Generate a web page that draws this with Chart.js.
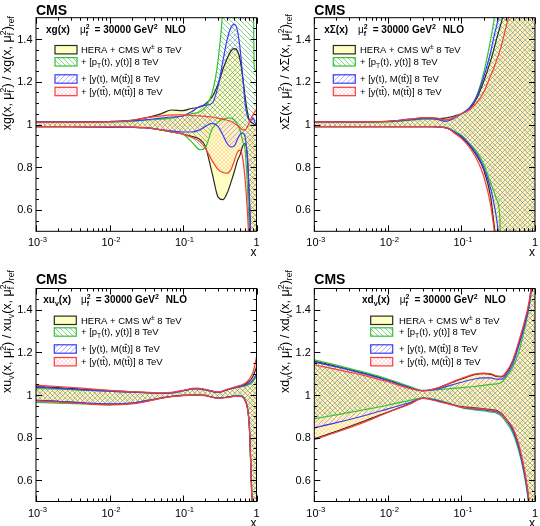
<!DOCTYPE html>
<html lang="en">
<head>
  <meta charset="UTF-8">
  <title>CMS PDF ratios</title>
  <script src="https://cdn.jsdelivr.net/npm/chart.js"></script>
  <style>
    body { margin: 0; background: #fff; }
    .wrap { position: relative; width: 540px; height: 526px; overflow: hidden; }
    .panel { position: absolute; width: 270px; height: 263px; }
  </style>
</head>
<body>
<div class="wrap">
  <div class="panel" style="left:0;top:0"><canvas id="cG" width="270" height="263"></canvas></div>
  <div class="panel" style="left:270px;top:0"><canvas id="cS" width="270" height="263"></canvas></div>
  <div class="panel" style="left:0;top:263px"><canvas id="cU" width="270" height="263"></canvas></div>
  <div class="panel" style="left:270px;top:263px"><canvas id="cD" width="270" height="263"></canvas></div>
</div>

<script>
// ---- data (ratio to reference) ----
// gluon
const xG = [0.001, 0.003, 0.01, 0.02, 0.03, 0.05, 0.07, 0.1, 0.13, 0.17, 0.2, 0.25, 0.3, 0.35, 0.4, 0.45, 0.5, 0.55, 0.6, 0.65, 0.7, 0.75, 0.8, 0.85, 0.9, 0.93, 0.95, 1.0];
const gHeraUp = [1.012, 1.012, 1.014, 1.02, 1.03, 1.05, 1.068, 1.065, 1.075, 1.082, 1.095, 1.13, 1.19, 1.26, 1.31, 1.345, 1.355, 1.345, 1.3, 1.22, 1.13, 1.06, 1.02, 1.01, 1.005, 1.0, 1.0, 1.0];
const gHeraLo = [0.99, 0.99, 0.988, 0.987, 0.985, 0.975, 0.965, 0.955, 0.945, 0.93, 0.9, 0.77, 0.66, 0.648, 0.68, 0.73, 0.78, 0.83, 0.86, 0.9, 0.91, 0.85, 0.65, 0.4, 0.3, 0.3, 0.3, 0.3];
const gPtUp = [1.01, 1.011, 1.012, 1.015, 1.02, 1.025, 1.03, 1.04, 1.05, 1.06, 1.08, 1.15, 1.3, 1.55, 1.9, 2, 2, 2, 2, 2, 2, 2, 2, 2, 1.7, 1.27, 1.255, 1.25];
const gPtLo = [0.99, 0.99, 0.988, 0.987, 0.985, 0.975, 0.965, 0.955, 0.92, 0.882, 0.89, 0.98, 1.01, 1.025, 1.03, 1.03, 1.02, 1.0, 0.97, 0.92, 0.88, 0.72, 0.5, 0.35, 0.3, 0.3, 0.3, 0.3];
const gYtUp = [1.012, 1.012, 1.013, 1.018, 1.022, 1.03, 1.035, 1.04, 1.06, 1.085, 1.09, 1.1, 1.18, 1.3, 1.4, 1.455, 1.47, 1.44, 1.35, 1.22, 1.1, 1.04, 1.02, 1.02, 1.03, 1.02, 1.01, 1.0];
const gYtLo = [0.99, 0.99, 0.988, 0.987, 0.985, 0.975, 0.97, 0.965, 0.965, 0.975, 0.99, 1.005, 0.99, 0.95, 0.91, 0.895, 0.9, 0.93, 0.955, 0.96, 0.94, 0.85, 0.65, 0.4, 0.3, 0.3, 0.3, 0.3];
const gYttUp = [1.011, 1.011, 1.012, 1.02, 1.03, 1.04, 1.045, 1.045, 1.042, 1.04, 1.038, 1.035, 1.03, 1.025, 1.02, 1.015, 1.005, 0.995, 0.985, 0.975, 0.975, 0.99, 1.01, 1.03, 1.045, 1.055, 1.06, 1.07];
const gYttLo = [0.99, 0.99, 0.99, 0.988, 0.985, 0.975, 0.965, 0.955, 0.94, 0.92, 0.89, 0.83, 0.79, 0.775, 0.772, 0.79, 0.83, 0.87, 0.88, 0.84, 0.74, 0.6, 0.42, 0.3, 0.3, 0.3, 0.3, 0.3];

// sea (Sigma)
const xS = [0.001, 0.003, 0.01, 0.02, 0.03, 0.04, 0.05, 0.06, 0.07, 0.08, 0.1, 0.13, 0.16, 0.2, 0.25, 0.28, 0.3, 0.33, 0.35, 0.4, 0.45, 0.5, 1.0];
const sHeraUp = [1.012, 1.012, 1.015, 1.025, 1.03, 1.03, 1.028, 1.03, 1.035, 1.04, 1.05, 1.075, 1.12, 1.2, 1.3, 1.36, 1.4, 1.45, 1.48, 1.56, 1.65, 1.7, 2];
const sHeraLo = [0.99, 0.99, 0.99, 0.99, 0.99, 0.99, 0.988, 0.985, 0.977, 0.963, 0.94, 0.9, 0.855, 0.79, 0.66, 0.52, 0.45, 0.3, 0.2, 0.2, 0.2, 0.2, 0.2];
const sPtUp = [1.01, 1.01, 1.012, 1.02, 1.025, 1.025, 1.025, 1.02, 1.025, 1.035, 1.05, 1.08, 1.13, 1.24, 1.4, 1.5, 1.6, 1.75, 1.85, 2, 2, 2, 2];
const sPtLo = [0.99, 0.99, 0.99, 0.99, 0.99, 0.99, 0.99, 0.987, 0.98, 0.968, 0.95, 0.91, 0.875, 0.815, 0.725, 0.68, 0.65, 0.58, 0.3, 0.2, 0.2, 0.2, 0.2];
const sYtUp = [1.012, 1.012, 1.014, 1.022, 1.027, 1.027, 1.022, 1.015, 1.02, 1.03, 1.05, 1.08, 1.13, 1.22, 1.34, 1.42, 1.46, 1.52, 1.56, 1.7, 2, 2, 2];
const sYtLo = [0.99, 0.99, 0.99, 0.99, 0.99, 0.99, 0.988, 0.985, 0.978, 0.965, 0.945, 0.905, 0.865, 0.8, 0.7, 0.62, 0.56, 0.45, 0.35, 0.2, 0.2, 0.2, 0.2];
const sYttUp = [1.012, 1.012, 1.015, 1.025, 1.032, 1.032, 1.028, 1.022, 1.025, 1.035, 1.05, 1.07, 1.1, 1.15, 1.23, 1.27, 1.3, 1.34, 1.37, 1.45, 1.52, 1.6, 2];
const sYttLo = [0.99, 0.99, 0.99, 0.99, 0.99, 0.99, 0.988, 0.985, 0.975, 0.96, 0.935, 0.89, 0.84, 0.76, 0.62, 0.5, 0.42, 0.3, 0.2, 0.2, 0.2, 0.2, 0.2];

// u valence
const xU = [0.001, 0.002, 0.005, 0.01, 0.02, 0.03, 0.05, 0.07, 0.1, 0.15, 0.2, 0.3, 0.4, 0.5, 0.6, 0.7, 0.8, 0.85, 0.9, 0.95, 1.0];
const uHeraUp = [1.04, 1.035, 1.025, 1.02, 1.015, 1.012, 1.008, 1.01, 1.02, 1.03, 1.025, 1.012, 1.025, 1.035, 1.042, 1.05, 1.065, 1.075, 1.09, 1.11, 1.13];
const uHeraLo = [0.975, 0.97, 0.96, 0.955, 0.96, 0.97, 0.985, 0.993, 0.998, 1.0, 0.998, 0.985, 0.99, 0.995, 0.995, 0.975, 0.85, 0.6, 0.35, 0.2, 0.2];
const uPtUp = [1.03, 1.028, 1.022, 1.018, 1.013, 1.011, 1.008, 1.01, 1.02, 1.03, 1.025, 1.012, 1.025, 1.033, 1.038, 1.043, 1.05, 1.055, 1.065, 1.078, 1.09];
const uPtLo = [0.965, 0.962, 0.958, 0.957, 0.962, 0.972, 0.986, 0.994, 0.998, 1.0, 0.998, 0.985, 0.99, 0.995, 0.995, 0.975, 0.85, 0.6, 0.35, 0.2, 0.2];
const uYtUp = [1.036, 1.031, 1.023, 1.018, 1.013, 1.011, 1.008, 1.01, 1.02, 1.03, 1.025, 1.012, 1.025, 1.033, 1.04, 1.046, 1.055, 1.062, 1.072, 1.085, 1.095];
const uYtLo = [0.975, 0.97, 0.962, 0.958, 0.962, 0.972, 0.986, 0.994, 0.998, 1.0, 0.998, 0.985, 0.99, 0.995, 0.995, 0.975, 0.85, 0.6, 0.35, 0.2, 0.2];
const uYttUp = [1.046, 1.04, 1.03, 1.022, 1.016, 1.013, 1.01, 1.012, 1.022, 1.032, 1.027, 1.014, 1.027, 1.037, 1.045, 1.055, 1.075, 1.09, 1.11, 1.14, 1.18];
const uYttLo = [0.972, 0.967, 0.958, 0.953, 0.958, 0.968, 0.984, 0.992, 0.997, 0.999, 0.997, 0.984, 0.988, 0.993, 0.993, 0.972, 0.84, 0.58, 0.33, 0.2, 0.2];

// d valence
const xD = [0.001, 0.002, 0.005, 0.01, 0.02, 0.03, 0.05, 0.07, 0.1, 0.15, 0.2, 0.25, 0.3, 0.35, 0.4, 0.5, 0.6, 0.7, 0.8, 0.85, 0.9, 1.0];
const dHeraUp = [1.158, 1.135, 1.1, 1.07, 1.035, 1.02, 1.035, 1.055, 1.075, 1.095, 1.1, 1.097, 1.087, 1.085, 1.1, 1.16, 1.24, 1.32, 1.4, 1.45, 1.52, 1.65];
const dHeraLo = [0.795, 0.83, 0.88, 0.92, 0.96, 0.985, 0.97, 0.958, 0.945, 0.94, 0.935, 0.931, 0.927, 0.915, 0.89, 0.84, 0.76, 0.66, 0.54, 0.45, 0.35, 0.2];
const dPtUp = [1.165, 1.14, 1.105, 1.075, 1.04, 1.022, 1.025, 1.03, 1.035, 1.04, 1.045, 1.05, 1.052, 1.06, 1.08, 1.13, 1.2, 1.29, 1.38, 1.43, 1.5, 1.65];
const dPtLo = [0.888, 0.907, 0.932, 0.952, 0.975, 0.987, 0.975, 0.96, 0.94, 0.93, 0.925, 0.92, 0.915, 0.9, 0.875, 0.82, 0.74, 0.64, 0.52, 0.43, 0.33, 0.2];
const dYtUp = [1.155, 1.132, 1.098, 1.068, 1.034, 1.02, 1.03, 1.045, 1.06, 1.075, 1.08, 1.08, 1.075, 1.075, 1.09, 1.145, 1.23, 1.31, 1.39, 1.44, 1.51, 1.65];
const dYtLo = [0.846, 0.87, 0.905, 0.935, 0.965, 0.986, 0.972, 0.958, 0.942, 0.935, 0.93, 0.925, 0.92, 0.908, 0.885, 0.832, 0.752, 0.65, 0.53, 0.44, 0.34, 0.2];
const dYttUp = [1.142, 1.12, 1.09, 1.062, 1.03, 1.02, 1.036, 1.057, 1.078, 1.098, 1.103, 1.1, 1.09, 1.088, 1.105, 1.165, 1.25, 1.33, 1.41, 1.46, 1.53, 1.65];
const dYttLo = [0.79, 0.825, 0.875, 0.918, 0.958, 0.984, 0.968, 0.956, 0.943, 0.938, 0.933, 0.929, 0.925, 0.913, 0.888, 0.845, 0.77, 0.67, 0.55, 0.46, 0.36, 0.2];

// axis ticks
const yTicks = [0.6, 0.8, 1.0, 1.2, 1.4];
const yTickText = ['0.6', '0.8', '1', '1.2', '1.4'];
const xTicks = [0.001, 0.01, 0.1, 1];
const xTickText = [['10', '-3'], ['10', '-2'], ['10', '-1'], ['1', '']];

const FONT = '"Liberation Sans", Arial, Helvetica, sans-serif';

// hatch fill like ROOT fill styles
function hatch(color, mode, step) {
  const c = document.createElement('canvas');
  c.width = step; c.height = step;
  const g = c.getContext('2d');
  g.strokeStyle = color;
  g.lineWidth = 1;
  g.beginPath();
  for (const k of [-step, 0, step]) {
    if (mode === 'back' || mode === 'cross') { g.moveTo(k, 0); g.lineTo(k + step, step); }
    if (mode === 'fwd' || mode === 'cross') { g.moveTo(k, step); g.lineTo(k + step, 0); }
  }
  g.stroke();
  return g.createPattern(c, 'repeat');
}

const styles = {
  hera: { line: '#2b2b22', fill: '#ffffc4' },
  pt:   { line: '#33c433', fill: hatch('rgba(60,180,60,0.6)', 'back', 5) },
  yt:   { line: '#3a3aff', fill: hatch('rgba(80,80,235,0.42)', 'fwd', 5) },
  ytt:  { line: '#ff3a3a', fill: hatch('rgba(255,110,110,0.22)', 'cross', 4) }
};

const legendText = [
  [{ t: 'HERA + CMS W' }, { sup: '±' }, { t: ' 8 TeV' }],
  [{ t: '+ [p' }, { sub: 'T' }, { t: '(t), y(t)] 8 TeV' }],
  [{ t: '+ [y(t), M(t' }, { bar: 't' }, { t: ')] 8 TeV' }],
  [{ t: '+ [y(t' }, { bar: 't' }, { t: '), M(t' }, { bar: 't' }, { t: ')] 8 TeV' }]
];
const legendStyle = [styles.hera, styles.pt, styles.yt, styles.ytt];

// draws text with sub/superscripts, returns width
function rich(ctx, parts, x, y, size, weight, draw) {
  let cx = x;
  const f = (s, w) => `${w || weight} ${s}px ${FONT}`;
  for (const p of parts) {
    if (p.gap) { cx += p.gap; continue; }
    if (p.t !== undefined) {
      ctx.font = f(size, p.w);
      if (draw) ctx.fillText(p.t, cx, y);
      cx += ctx.measureText(p.t).width;
    } else if (p.bar) {
      ctx.font = f(size, p.w);
      const w = ctx.measureText(p.bar).width;
      if (draw) {
        ctx.fillText(p.bar, cx, y);
        ctx.fillRect(cx + w * 0.05, y - size * 0.9, w * 0.9, Math.max(0.8, size * 0.07));
      }
      cx += w;
    } else {
      const s = size * 0.7;
      ctx.font = f(s, p.w);
      let w = 0;
      if (p.sup) { if (draw) ctx.fillText(p.sup, cx, y - size * 0.42); w = Math.max(w, ctx.measureText(p.sup).width); }
      if (p.sub) { if (draw) ctx.fillText(p.sub, cx, y + size * 0.25); w = Math.max(w, ctx.measureText(p.sub).width); }
      cx += w;
    }
  }
  return cx - x;
}

function titleParts(fn) {
  return [...fn, { t: '(x, μ' }, { sub: 'f', sup: '2' }, { t: ') / ' }, ...fn, { t: '(x, μ' }, { sub: 'f', sup: '2' }, { t: ')' }, { sub: 'ref' }];
}
function headerParts(fn) {
  return [...fn, { t: '(x)' }, { gap: 10 }, { t: 'μ', w: 'normal' }, { sub: 'f', sup: '2' }, { gap: 5 },
          { t: '= 30000 GeV' }, { sup: '2' }, { gap: 7 }, { t: 'NLO' }];
}

// frame, ticks, labels, legend
function makeDecor(p) {
  return {
    id: 'panelDecor',
    afterDraw(chart) {
      const ctx = chart.ctx, a = chart.chartArea;
      const sx = chart.scales.x, sy = chart.scales.y;
      ctx.save();
      ctx.fillStyle = '#000';
      ctx.strokeStyle = '#000';
      ctx.lineWidth = 1;
      ctx.strokeRect(a.left, a.top, a.right - a.left, a.bottom - a.top);

      ctx.beginPath();
      for (let e = -3; e <= 0; e++) {
        for (let m = 1; m <= 9; m++) {
          const v = m * Math.pow(10, e);
          if (v > 1.0001) break;
          const px = Math.round(sx.getPixelForValue(v)) + 0.5;
          const len = m === 1 ? 6 : 3;
          ctx.moveTo(px, a.bottom); ctx.lineTo(px, a.bottom - len);
          ctx.moveTo(px, a.top); ctx.lineTo(px, a.top + len);
        }
      }
      for (let k = 1; k < 20; k++) {
        const v = 0.5 + k * 0.05;
        const major = yTicks.some(t => Math.abs(t - v) < 1e-6);
        const py = Math.round(sy.getPixelForValue(v)) + 0.5;
        const len = major ? 6 : 3;
        ctx.moveTo(a.left, py); ctx.lineTo(a.left + len, py);
        ctx.moveTo(a.right, py); ctx.lineTo(a.right - len, py);
      }
      ctx.stroke();

      // y tick labels
      ctx.font = `11px ${FONT}`;
      ctx.textAlign = 'right';
      ctx.textBaseline = 'middle';
      yTicks.forEach((v, i) => ctx.fillText(yTickText[i], a.left - 3.5, sy.getPixelForValue(v) + 0.5));
      ctx.textAlign = 'left';
      ctx.textBaseline = 'alphabetic';

      // x tick labels
      xTicks.forEach((v, i) => {
        const parts = [{ t: xTickText[i][0] }];
        if (xTickText[i][1]) parts.push({ sup: xTickText[i][1] });
        const w = rich(ctx, parts, 0, 0, 11, 'normal', false);
        const px = sx.getPixelForValue(v);
        rich(ctx, parts, px - w / 2 + (i === 3 ? 0 : 1.5), a.bottom + 15, 11, 'normal', true);
      });
      ctx.font = `12px ${FONT}`;
      ctx.textAlign = 'right';
      ctx.fillText('x', a.right, a.bottom + 25);
      ctx.textAlign = 'left';

      // y axis title
      ctx.save();
      ctx.translate(p.titleX, p.titleEnd);
      ctx.rotate(-Math.PI / 2);
      const tw = rich(ctx, p.title, 0, 0, 12.5, 'normal', false);
      rich(ctx, p.title, -tw, 0, 12.5, 'normal', true);
      ctx.restore();

      // CMS
      ctx.font = `bold 14px ${FONT}`;
      ctx.fillText('CMS', a.left, p.cmsY);

      // header
      rich(ctx, p.header, p.headX, p.headY, 10, 'bold', true);

      // legend
      p.legRows.forEach((ry, i) => {
        const st = legendStyle[i];
        ctx.fillStyle = '#fff';
        ctx.fillRect(p.legX, ry - 4.2, 22, 8.4);
        ctx.fillStyle = st.fill;
        ctx.fillRect(p.legX, ry - 4.2, 22, 8.4);
        ctx.strokeStyle = st.line;
        ctx.lineWidth = 1.2;
        ctx.strokeRect(p.legX, ry - 4.2, 22, 8.4);
        ctx.fillStyle = '#000';
        rich(ctx, legendText[i], p.legTX, ry + 3.4, 9.5, 'normal', true);
      });
      ctx.restore();
    }
  };
}

function band(xs, up, lo, st) {
  const pts = arr => arr.map((v, i) => ({ x: xs[i], y: v }));
  return [
    { data: pts(up), borderColor: st.line, backgroundColor: st.fill, fill: '+1' },
    { data: pts(lo), borderColor: st.line, backgroundColor: st.fill, fill: false }
  ];
}

const panels = [
  { id: 'cG', L: 36, R: 256.5, T: 17.7, B: 231.3, cmsY: 14.5,
    headX: 46, headY: 33, legX: 55, legTX: 81, legRows: [49.7, 61.8, 79, 91.5],
    titleX: 11, titleEnd: 16, fn: [{ t: 'xg' }],
    sets: [band(xG, gYttUp, gYttLo, styles.ytt), band(xG, gYtUp, gYtLo, styles.yt), band(xG, gPtUp, gPtLo, styles.pt), band(xG, gHeraUp, gHeraLo, styles.hera)] },
  { id: 'cS', L: 44.3, R: 265, T: 17.7, B: 231.3, cmsY: 14.5,
    headX: 54.3, headY: 33, legX: 63.3, legTX: 90, legRows: [49.7, 61.8, 79, 91.5],
    titleX: 19.3, titleEnd: 14, fn: [{ t: 'xΣ' }],
    sets: [band(xS, sYttUp, sYttLo, styles.ytt), band(xS, sYtUp, sYtLo, styles.yt), band(xS, sPtUp, sPtLo, styles.pt), band(xS, sHeraUp, sHeraLo, styles.hera)] },
  { id: 'cU', L: 36, R: 256.5, T: 25.5, B: 238.5, cmsY: 21,
    headX: 43.3, headY: 40, legX: 54.3, legTX: 81, legRows: [57.3, 69, 86, 98.7],
    titleX: 11, titleEnd: 7, fn: [{ t: 'xu' }, { sub: 'v' }],
    sets: [band(xU, uYttUp, uYttLo, styles.ytt), band(xU, uYtUp, uYtLo, styles.yt), band(xU, uPtUp, uPtLo, styles.pt), band(xU, uHeraUp, uHeraLo, styles.hera)] },
  { id: 'cD', L: 44.3, R: 265, T: 25.5, B: 238.5, cmsY: 21,
    headX: 92, headY: 40, legX: 100.7, legTX: 129, legRows: [57.3, 69, 86, 98.7],
    titleX: 19.3, titleEnd: 7, fn: [{ t: 'xd' }, { sub: 'v' }],
    sets: [band(xD, dYttUp, dYttLo, styles.ytt), band(xD, dYtUp, dYtLo, styles.yt), band(xD, dPtUp, dPtLo, styles.pt), band(xD, dHeraUp, dHeraLo, styles.hera)] }
];

panels.forEach(p => {
  p.title = titleParts(p.fn);
  p.header = headerParts(p.fn);
  new Chart(document.getElementById(p.id), {
    type: 'line',
    data: { datasets: p.sets.flat() },
    options: {
      responsive: false,
      animation: false,
      devicePixelRatio: 1,
      layout: { padding: { left: p.L, right: 270 - p.R, top: p.T, bottom: 263 - p.B } },
      scales: {
        x: { type: 'logarithmic', min: 0.001, max: 1, display: false },
        y: { type: 'linear', min: 0.5, max: 1.5, display: false }
      },
      elements: {
        point: { radius: 0 },
        line: { borderWidth: 1.2, cubicInterpolationMode: 'monotone' }
      },
      plugins: {
        legend: { display: false },
        tooltip: { enabled: false },
        filler: { drawTime: 'beforeDatasetsDraw' }
      }
    },
    plugins: [makeDecor(p)]
  });
});
</script>
</body>
</html>
